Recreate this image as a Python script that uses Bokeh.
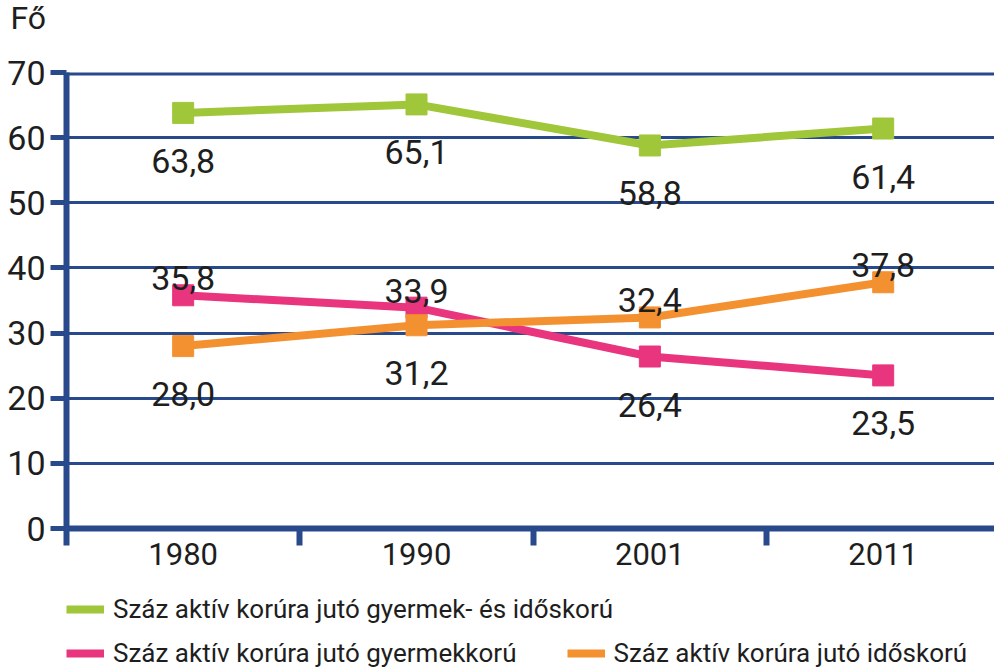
from bokeh.plotting import figure
from bokeh.layouts import column
from bokeh.models import Range1d, FixedTicker, Legend, LegendItem, Span, ColumnDataSource
from bokeh.embed import file_html
from bokeh.resources import INLINE
from bokeh.core.properties import value

# ---- data ----
years = ["1980", "1990", "2001", "2011"]
total = [63.8, 65.1, 58.8, 61.4]        # gyermek- és időskorú
children = [35.8, 33.9, 26.4, 23.5]     # gyermekkorú
elderly = [28.0, 31.2, 32.4, 37.8]      # időskorú
y_ticks = [0, 10, 20, 30, 40, 50, 60, 70]
series_names = [
    "Száz aktív korúra jutó gyermek- és időskorú",
    "Száz aktív korúra jutó gyermekkorú",
    "Száz aktív korúra jutó időskorú",
]
unit_label = "Fő"

# ---- label placement (style) ----
pos_total = ["below", "below", "below", "below"]
pos_children = ["above", "above", "below", "below"]
pos_elderly = ["below", "below", "above", "above"]

GREEN = "#A0C63A"
PINK = "#E8357E"
ORANGE = "#F39130"
NAVY = "#284A8C"
TEXT = "#1E1E1E"
FONT = "Roboto"

OFF = {"below": 48, "above": -17}


def fmt(v):
    return f"{v:.1f}".replace(".", ",")


xs = [i + 0.5 for i in range(len(years))]
src = ColumnDataSource(dict(
    x=xs,
    total=total, children=children, elderly=elderly,
    total_lbl=[fmt(v) for v in total],
    children_lbl=[fmt(v) for v in children],
    elderly_lbl=[fmt(v) for v in elderly],
    total_off=[OFF[p] for p in pos_total],
    children_off=[OFF[p] for p in pos_children],
    elderly_off=[OFF[p] for p in pos_elderly],
))

p = figure(width=994, height=590,
           x_range=Range1d(0, 3.977), y_range=Range1d(0, 70),
           output_backend="svg", toolbar_location=None,
           min_border_left=66, min_border_right=0, min_border_top=72, min_border_bottom=62)
p.outline_line_color = None
p.background_fill_color = "white"

# unit label as title; the blank second line lifts it to the top of the border
p.title.text = unit_label + "\n "
p.title.text_font = FONT
p.title.text_font_size = "32px"
p.title.text_font_style = "normal"
p.title.text_color = TEXT
p.title.offset = -56
p.title.standoff = -8
p.title.vertical_align = "top"

# y axis
p.yaxis.ticker = FixedTicker(ticks=y_ticks)
p.yaxis.axis_line_width = 6
p.yaxis.axis_line_color = NAVY
p.yaxis.major_tick_out = 16
p.yaxis.major_tick_in = 0
p.yaxis.major_tick_line_width = 5
p.yaxis.major_tick_line_color = NAVY
p.yaxis.minor_tick_line_color = None
p.yaxis.major_label_text_font = FONT
p.yaxis.major_label_text_font_size = "34px"
p.yaxis.major_label_text_color = TEXT
p.yaxis.major_label_standoff = 5

# x axis
p.xaxis.ticker = FixedTicker(ticks=xs, minor_ticks=[0, 1, 2, 3])
p.xaxis.major_label_overrides = {x: y for x, y in zip(xs, years)}
p.xaxis.axis_line_width = 6
p.xaxis.axis_line_color = NAVY
p.xaxis.major_tick_line_color = None
p.xaxis.major_tick_out = 0
p.xaxis.major_tick_in = 0
p.xaxis.minor_tick_out = 17
p.xaxis.minor_tick_in = 0
p.xaxis.minor_tick_line_width = 6
p.xaxis.minor_tick_line_color = NAVY
p.xaxis.major_label_text_font = FONT
p.xaxis.major_label_text_font_size = "31px"
p.xaxis.major_label_text_color = TEXT
p.xaxis.major_label_standoff = -3

# grid
p.xgrid.grid_line_color = None
p.ygrid.ticker = FixedTicker(ticks=y_ticks)
p.ygrid.grid_line_color = NAVY
p.ygrid.grid_line_width = 3
p.add_layout(Span(location=y_ticks[-1], dimension="width", line_color=NAVY, line_width=6))

# series
p.line("x", "total", source=src, line_width=8, line_color=GREEN)
p.scatter("x", "total", source=src, marker="square", size=21, color=GREEN)
p.line("x", "children", source=src, line_width=8, line_color=PINK)
p.scatter("x", "children", source=src, marker="square", size=21, color=PINK)
p.line("x", "elderly", source=src, line_width=8, line_color=ORANGE)
p.scatter("x", "elderly", source=src, marker="square", size=21, color=ORANGE)

for col in ["total", "children", "elderly"]:
    p.text("x", col, text=col + "_lbl", source=src, y_offset=col + "_off",
           text_align="center", text_baseline="alphabetic",
           text_font=value(FONT), text_font_size="34px", text_color=TEXT)

# ---- legend strip below the chart ----
lg = figure(width=994, height=80, x_range=Range1d(0, 1), y_range=Range1d(0, 1),
            x_axis_type=None, y_axis_type=None,
            output_backend="svg", toolbar_location=None, min_border=0)
lg.outline_line_color = None
lg.grid.grid_line_color = None
# legend keys only (single point lines draw nothing in the strip)
k_total = lg.line(x=[-1], y=[-1], line_color=GREEN, line_width=8)
k_children = lg.line(x=[-1], y=[-1], line_color=PINK, line_width=8)
k_elderly = lg.line(x=[-1], y=[-1], line_color=ORANGE, line_width=8)


def style_legend(l):
    l.label_text_font = FONT
    l.label_text_font_size = "26px"
    l.label_text_color = TEXT
    l.glyph_width = 38
    l.glyph_height = 10
    l.label_standoff = 9
    l.border_line_color = None
    l.background_fill_alpha = 0
    l.padding = 0
    l.margin = 0


leg1 = Legend(items=[LegendItem(label=series_names[0], renderers=[k_total])],
              location=(0, 46))
style_legend(leg1)
leg2 = Legend(items=[LegendItem(label=series_names[1], renderers=[k_children]),
                     LegendItem(label=series_names[2], renderers=[k_elderly])],
              orientation="horizontal", location=(0, 2))
style_legend(leg2)
leg2.spacing = 50
lg.add_layout(leg1)
lg.add_layout(leg2)

layout = column(p, lg, spacing=0)
open("out.html", "w").write(file_html(layout, INLINE))
